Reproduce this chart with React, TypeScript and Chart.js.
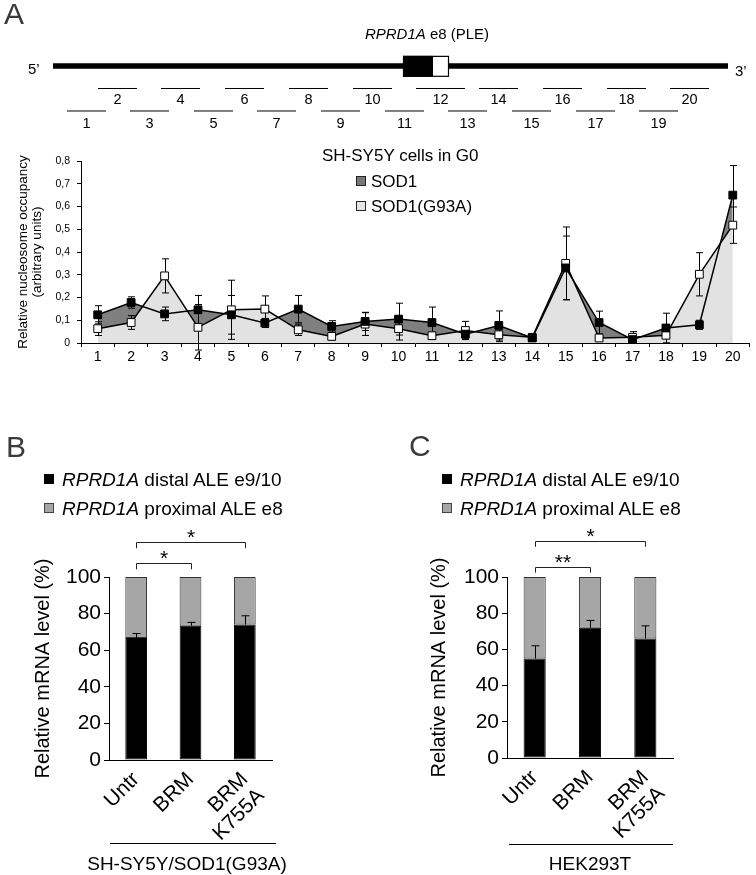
import React, { useEffect, useRef } from 'react';
import { Chart, registerables } from 'chart.js';

Chart.register(...registerables);

const FONT = '"Liberation Sans", Arial, Helvetica, sans-serif';

// ---------- Panel A: gene diagram (relative positions along the locus) ----------
const GENE_START = 0;
const GENE_END = 675;
const EXON_CODING = [350, 380];
const EXON_UTR = [380, 396];
const AMPLICON_LABELS = ['1', '2', '3', '4', '5', '6', '7', '8', '9', '10', '11', '12', '13', '14', '15', '16', '17', '18', '19', '20'];
const AMPLICON_START = [14, 45, 77, 108, 141, 172, 204, 236, 268, 300, 332, 363, 395, 426, 459, 490, 523, 554, 586, 617];
const AMPLICON_END = [53, 84, 116, 147, 180, 211, 243, 275, 307, 339, 371, 412, 434, 465, 498, 529, 562, 593, 625, 656];

// ---------- Panel A: nucleosome occupancy ----------
const SOD1_LABEL = 'SOD1';
const G93A_LABEL = 'SOD1(G93A)';
const SOD1_OCC = [0.124, 0.178, 0.128, 0.146, 0.124, 0.088, 0.149, 0.073, 0.095, 0.105, 0.09, 0.039, 0.077, 0.022, 0.33, 0.09, 0.015, 0.066, 0.08, 0.65];
const SOD1_SEM = [0.04, 0.025, 0.03, 0.063, 0.085, 0.02, 0.06, 0.025, 0.04, 0.07, 0.068, 0.02, 0.064, 0.015, 0.14, 0.05, 0.01, 0.065, 0.02, 0.13];
const G93A_OCC = [0.063, 0.09, 0.295, 0.069, 0.146, 0.149, 0.058, 0.029, 0.083, 0.063, 0.032, 0.055, 0.036, 0.025, 0.35, 0.022, 0.025, 0.034, 0.302, 0.518];
const G93A_SEM = [0.03, 0.03, 0.075, 0.1, 0.13, 0.058, 0.025, 0.015, 0.05, 0.05, 0.015, 0.04, 0.03, 0.015, 0.16, 0.015, 0.025, 0.015, 0.095, 0.08];
const OCC_MIN = 0;
const OCC_MAX = 0.8;
const OCC_STEP = 0.1;

// ---------- Panels B and C: relative mRNA level ----------
const TREATMENTS = ['Untr', 'BRM', ['BRM', 'K755A']];
const DISTAL_LABEL = 'distal ALE e9/10';
const PROXIMAL_LABEL = 'proximal ALE e8';
const B_DISTAL = [66.7, 73.4, 74.0];
const B_PROXIMAL = [33.3, 26.6, 26.0];
const B_DISTAL_SEM = [2.4, 1.8, 4.8];
const C_DISTAL = [55.0, 72.0, 66.0];
const C_PROXIMAL = [45.0, 28.0, 34.0];
const C_DISTAL_SEM = [7.0, 4.0, 7.0];
const SIG_PAIRS = [[0, 1], [0, 2]];
const B_SIG = ['*', '*'];
const C_SIG = ['**', '*'];
const B_SIG_LEVEL = [107.5, 119];
const C_SIG_LEVEL = [105.7, 120];
const MRNA_TICKS = [0, 100, 20];

const Txt = ({ x, y, size, align = 'left', style = {}, children }: any) => (
  <div
    style={{
      position: 'absolute',
      left: x,
      top: y,
      fontSize: size,
      lineHeight: 1,
      fontFamily: FONT,
      whiteSpace: 'nowrap',
      color: '#000',
      transform: `translate(${align === 'center' ? '-50%' : align === 'right' ? '-100%' : '0'}, -50%)`,
      ...style,
    }}
  >
    {children}
  </div>
);

function GeneDiagram() {
  const ref = useRef<HTMLCanvasElement>(null);
  useEffect(() => {
    const rowOf = (i: number) => (i % 2 === 0 ? 2 : 1);
    const datasets: any[] = [
      {
        data: [{ x: GENE_START, y: 0 }, { x: GENE_END, y: 0 }],
        borderColor: '#000',
        borderWidth: 5.5,
        pointRadius: 0,
        showLine: true,
        borderCapStyle: 'butt',
      },
      ...AMPLICON_START.map((s, i) => ({
        data: [{ x: s, y: rowOf(i) }, { x: AMPLICON_END[i], y: rowOf(i) }],
        borderColor: '#000',
        borderWidth: 1,
        pointRadius: 0,
        showLine: true,
      })),
    ];
    const deco = {
      id: 'geneDeco',
      afterDatasetsDraw(chart: any) {
        const { ctx, scales } = chart;
        const xs = scales.x;
        const ys = scales.y;
        ctx.save();
        const top = ys.getPixelForValue(-0.45);
        const bot = ys.getPixelForValue(0.48);
        const x0 = xs.getPixelForValue(EXON_CODING[0]);
        const x1 = xs.getPixelForValue(EXON_CODING[1]);
        const x2 = xs.getPixelForValue(EXON_UTR[1]);
        ctx.fillStyle = '#000';
        ctx.fillRect(x0, top, x1 - x0, bot - top);
        ctx.fillStyle = '#fff';
        ctx.fillRect(x1, top, x2 - x1, bot - top);
        ctx.strokeStyle = '#000';
        ctx.lineWidth = 1.2;
        ctx.strokeRect(x0 + 0.5, top + 0.5, x2 - x0 - 1, bot - top - 1);
        ctx.font = `14.5px ${FONT}`;
        ctx.fillStyle = '#000';
        ctx.textAlign = 'center';
        ctx.textBaseline = 'middle';
        AMPLICON_LABELS.forEach((lab, i) => {
          const r = rowOf(i);
          const cx = xs.getPixelForValue((AMPLICON_START[i] + AMPLICON_END[i]) / 2);
          const cy = ys.getPixelForValue(r) + (r === 1 ? 12 : 13);
          ctx.fillText(lab, cx, cy);
        });
        ctx.restore();
      },
    };
    const chart = new Chart(ref.current as HTMLCanvasElement, {
      type: 'scatter',
      data: { datasets },
      options: {
        animation: false,
        responsive: false,
        events: [],
        layout: { padding: 0 },
        plugins: { legend: { display: false }, tooltip: { enabled: false } },
        scales: {
          x: { type: 'linear', display: false, min: -53, max: 703 },
          y: { type: 'linear', display: false, min: -2.933, max: 3.289, reverse: true },
        },
      } as any,
      plugins: [deco],
    });
    return () => chart.destroy();
  }, []);
  return <canvas ref={ref} width={756} height={140} style={{ position: 'absolute', left: 0, top: 0, width: 756, height: 140 }} />;
}

function OccupancyChart() {
  const ref = useRef<HTMLCanvasElement>(null);
  useEffect(() => {
    const errPlugin = {
      id: 'occErr',
      beforeDatasetsDraw(chart: any) {
        const { ctx, scales } = chart;
        const ys = scales.y;
        ctx.save();
        ctx.strokeStyle = '#000';
        ctx.lineWidth = 1;
        const sets = [
          [SOD1_OCC, SOD1_SEM],
          [G93A_OCC, G93A_SEM],
        ];
        sets.forEach(([vals, errs], di) => {
          const meta = chart.getDatasetMeta(di);
          vals.forEach((v: number, i: number) => {
            const x = Math.round(meta.data[i].x) + 0.5;
            const yt = ys.getPixelForValue(v + errs[i]);
            const yb = ys.getPixelForValue(v - errs[i]);
            ctx.beginPath();
            ctx.moveTo(x, yt);
            ctx.lineTo(x, yb);
            ctx.moveTo(x - 3.5, yt);
            ctx.lineTo(x + 3.5, yt);
            ctx.moveTo(x - 3.5, yb);
            ctx.lineTo(x + 3.5, yb);
            ctx.stroke();
          });
        });
        ctx.restore();
      },
    };
    const chart = new Chart(ref.current as HTMLCanvasElement, {
      type: 'line',
      data: {
        labels: AMPLICON_LABELS,
        datasets: [
          {
            label: SOD1_LABEL,
            data: SOD1_OCC,
            borderColor: '#000',
            borderWidth: 1.5,
            pointStyle: 'rect',
            pointRadius: 5.5,
            pointBackgroundColor: '#000',
            pointBorderColor: '#000',
            pointBorderWidth: 1,
            tension: 0,
            fill: { target: 1, above: '#7f7f7f', below: 'rgba(0,0,0,0)' },
          },
          {
            label: G93A_LABEL,
            data: G93A_OCC,
            borderColor: '#000',
            borderWidth: 1.5,
            pointStyle: 'rect',
            pointRadius: 5.5,
            pointBackgroundColor: '#fff',
            pointBorderColor: '#000',
            pointBorderWidth: 1,
            tension: 0,
            fill: { target: 'origin', above: '#e2e2e2', below: '#e2e2e2' },
          },
        ],
      },
      options: {
        animation: false,
        responsive: false,
        events: [],
        layout: { padding: { left: 0, top: 21, right: 2, bottom: 0 } },
        plugins: {
          legend: { display: false },
          tooltip: { enabled: false },
          filler: { drawTime: 'beforeDatasetsDraw' },
        },
        scales: {
          x: {
            type: 'category',
            offset: true,
            grid: { offset: true, drawOnChartArea: false, drawTicks: true, tickLength: 4, color: '#000' },
            border: { color: '#000', width: 1 },
            ticks: { font: { size: 14, family: FONT }, color: '#000', padding: 2, autoSkip: false, maxRotation: 0 },
            afterFit: (s: any) => { s.height = 37; },
          },
          y: {
            min: OCC_MIN,
            max: OCC_MAX,
            ticks: {
              stepSize: OCC_STEP,
              font: { size: 10.5, family: FONT },
              color: '#000',
              padding: 7,
              callback: (v: any) => (Number(v) === 0 ? '0' : Number(v).toFixed(1).replace('.', ',')),
            },
            grid: { drawOnChartArea: false, drawTicks: true, tickLength: 4, color: '#000' },
            border: { color: '#000', width: 1 },
            title: {
              display: true,
              text: ['Relative nucleosome occupancy', '(arbitrary units)'],
              font: { size: 13.5, family: FONT, lineHeight: 1.0 },
              color: '#000',
              padding: { top: 17, bottom: 0 },
            },
            afterFit: (s: any) => { s.width = 81; },
          },
        },
      } as any,
      plugins: [errPlugin],
    });
    return () => chart.destroy();
  }, []);
  return <canvas ref={ref} width={756} height={240} style={{ position: 'absolute', left: 0, top: 140, width: 756, height: 240 }} />;
}

function MrnaChart({ left, distal, proximal, sem, sig, sigLevel, padRight, yAxisW, xAxisH, titlePad }: any) {
  const ref = useRef<HTMLCanvasElement>(null);
  useEffect(() => {
    const deco = {
      id: 'mrnaDeco',
      afterDraw(chart: any) {
        const { ctx, scales } = chart;
        const xs = scales.x;
        const ys = scales.y;
        ctx.save();
        ctx.strokeStyle = '#000';
        ctx.lineWidth = 1;
        const meta = chart.getDatasetMeta(0);
        distal.forEach((v: number, i: number) => {
          const x = Math.round(meta.data[i].x) + 0.5;
          const yb = ys.getPixelForValue(v);
          const yt = ys.getPixelForValue(v + sem[i]);
          ctx.beginPath();
          ctx.moveTo(x, yb);
          ctx.lineTo(x, yt);
          ctx.moveTo(x - 4, yt);
          ctx.lineTo(x + 4, yt);
          ctx.stroke();
        });
        ctx.strokeStyle = '#222';
        SIG_PAIRS.forEach(([a, b], k) => {
          const xa = Math.round(xs.getPixelForValue(a)) + 0.5;
          const xb = Math.round(xs.getPixelForValue(b)) + 0.5;
          const yl = Math.round(ys.getPixelForValue(sigLevel[k])) + 0.5;
          const yk = ys.getPixelForValue(sigLevel[k] - 3.3);
          ctx.beginPath();
          ctx.moveTo(xa, yk);
          ctx.lineTo(xa, yl);
          ctx.lineTo(xb, yl);
          ctx.lineTo(xb, yk);
          ctx.stroke();
          ctx.fillStyle = '#000';
          ctx.font = `21px ${FONT}`;
          ctx.textAlign = 'center';
          ctx.textBaseline = 'middle';
          ctx.fillText(sig[k], (xa + xb) / 2, yl - 4.5);
        });
        ctx.restore();
      },
    };
    const chart = new Chart(ref.current as HTMLCanvasElement, {
      type: 'bar',
      data: {
        labels: TREATMENTS as any,
        datasets: [
          {
            label: DISTAL_LABEL,
            data: distal,
            backgroundColor: '#000',
            borderColor: '#000',
            borderWidth: 1,
            borderSkipped: false,
            barPercentage: 0.4,
            categoryPercentage: 1,
          },
          {
            label: PROXIMAL_LABEL,
            data: proximal,
            backgroundColor: '#a6a6a6',
            borderColor: '#333',
            borderWidth: 1,
            borderSkipped: false,
            barPercentage: 0.4,
            categoryPercentage: 1,
          },
        ],
      },
      options: {
        animation: false,
        responsive: false,
        events: [],
        layout: { padding: { left: 0, top: 197, right: padRight, bottom: 0 } },
        plugins: { legend: { display: false }, tooltip: { enabled: false } },
        scales: {
          x: {
            stacked: true,
            grid: { drawOnChartArea: false, drawTicks: false },
            border: { color: '#000', width: 1 },
            ticks: {
              font: { size: 21, family: FONT, lineHeight: 1.1 },
              color: '#000',
              minRotation: 45,
              maxRotation: 45,
              padding: 8,
              autoSkip: false,
            },
            afterFit: (s: any) => { s.height = xAxisH; },
          },
          y: {
            stacked: true,
            min: MRNA_TICKS[0],
            max: MRNA_TICKS[1],
            ticks: { stepSize: MRNA_TICKS[2], font: { size: 21, family: FONT }, color: '#000', padding: 3 },
            grid: { drawOnChartArea: false, drawTicks: true, tickLength: 5, color: '#000' },
            border: { color: '#000', width: 1 },
            title: {
              display: true,
              text: 'Relative mRNA level (%)',
              font: { size: 20, family: FONT },
              color: '#000',
              padding: { top: titlePad, bottom: 0 },
            },
            afterFit: (s: any) => { s.width = yAxisW; },
          },
        },
      } as any,
      plugins: [deco],
    });
    return () => chart.destroy();
  }, []);
  return <canvas ref={ref} width={378} height={495} style={{ position: 'absolute', left, top: 380, width: 378, height: 495 }} />;
}

const Square = ({ x, y, size, fill, border }: any) => (
  <div style={{ position: 'absolute', left: x, top: y, width: size, height: size, background: fill, border: `1px solid ${border}`, boxSizing: 'border-box' }} />
);

function MrnaLegend({ x }: any) {
  return (
    <>
      <Square x={x} y={474} size={10} fill="#000" border="#000" />
      <Txt x={x + 18} y={479} size={19}><i>RPRD1A</i> {DISTAL_LABEL}</Txt>
      <Square x={x} y={503} size={10} fill="#a6a6a6" border="#444" />
      <Txt x={x + 18} y={508} size={19}><i>RPRD1A</i> {PROXIMAL_LABEL}</Txt>
    </>
  );
}

export default function App() {
  const letter = { color: '#3a3a3a' };
  return (
    <div style={{ position: 'absolute', left: 0, top: 0, width: 756, height: 875, background: '#fff', overflow: 'hidden', fontFamily: FONT }}>
      <GeneDiagram />
      <OccupancyChart />
      <MrnaChart left={0} distal={B_DISTAL} proximal={B_PROXIMAL} sem={B_DISTAL_SEM} sig={B_SIG} sigLevel={B_SIG_LEVEL} padRight={106} yAxisW={109} xAxisH={115} titlePad={31} />
      <MrnaChart left={378} distal={C_DISTAL} proximal={C_PROXIMAL} sem={C_DISTAL_SEM} sig={C_SIG} sigLevel={C_SIG_LEVEL} padRight={83} yAxisW={129} xAxisH={117} titlePad={49} />

      <Txt x={4} y={14} size={30} style={letter}>A</Txt>
      <Txt x={427} y={33} size={15} align="center"><i>RPRD1A</i> e8 (PLE)</Txt>
      <Txt x={28} y={68} size={15}>5’</Txt>
      <Txt x={735} y={70} size={15}>3’</Txt>

      <Txt x={322} y={155} size={17}>SH-SY5Y cells in G0</Txt>
      <Square x={356} y={176} size={10} fill="#777" border="#222" />
      <Txt x={371} y={181} size={17}>{SOD1_LABEL}</Txt>
      <Square x={356} y={201} size={10} fill="#e6e6e6" border="#222" />
      <Txt x={371} y={206} size={17}>{G93A_LABEL}</Txt>

      <Txt x={6} y={447} size={30} style={letter}>B</Txt>
      <MrnaLegend x={44} />
      <div style={{ position: 'absolute', left: 110, top: 843, width: 166, height: 1, background: '#000' }} />
      <Txt x={187} y={863} size={19} align="center">SH-SY5Y/SOD1(G93A)</Txt>

      <Txt x={409} y={446} size={30} style={letter}>C</Txt>
      <MrnaLegend x={442} />
      <div style={{ position: 'absolute', left: 509, top: 844, width: 164, height: 1, background: '#000' }} />
      <Txt x={590} y={863} size={19} align="center">HEK293T</Txt>
    </div>
  );
}
